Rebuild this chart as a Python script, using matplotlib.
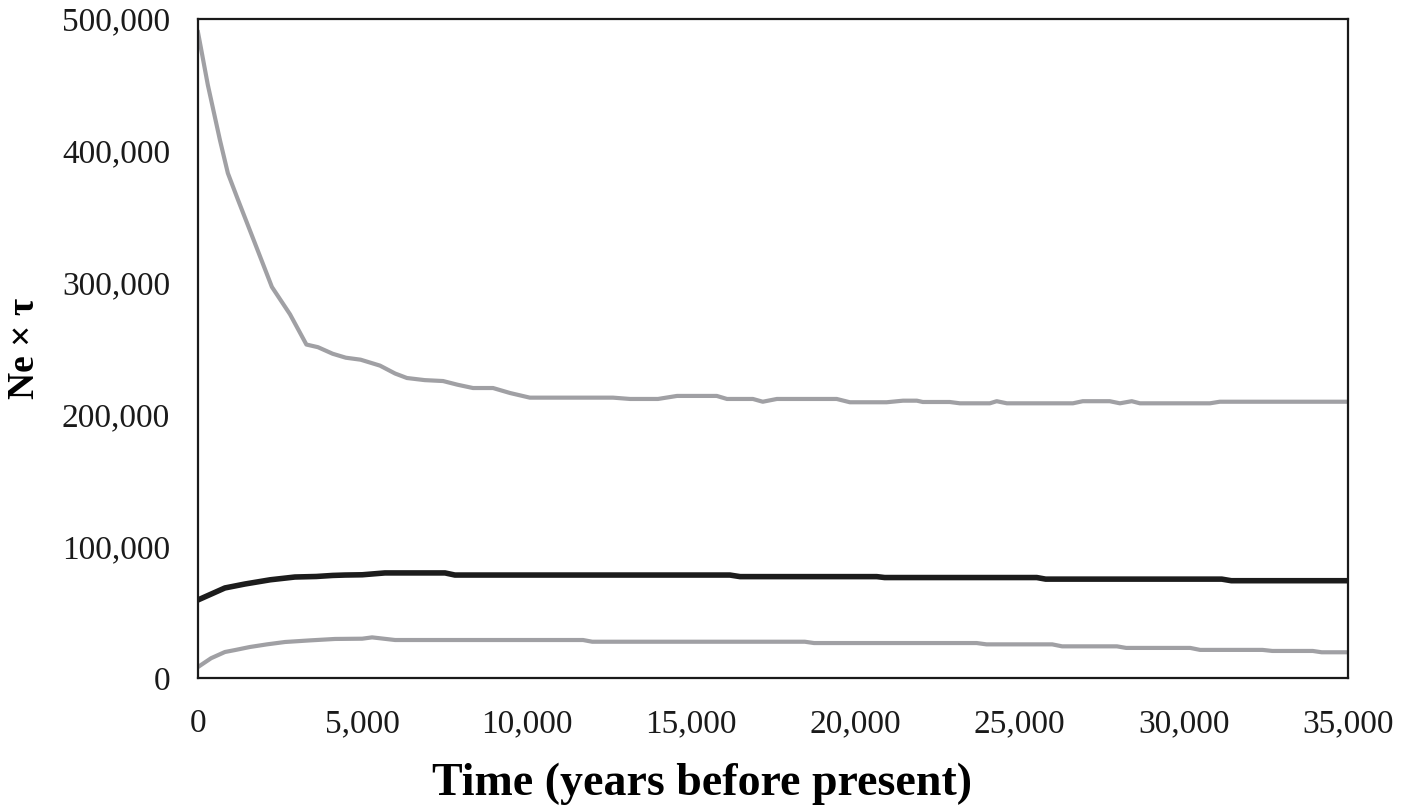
import numpy as np
import matplotlib
matplotlib.use('Agg')
import matplotlib.pyplot as plt
from matplotlib.ticker import FuncFormatter

plt.rcParams['font.family'] = ['Liberation Serif', 'DejaVu Serif']

# upper grey bound
years_upper = [0, 300, 670, 910, 1220, 1700, 2250, 2800, 3300, 3650, 4100, 4500, 4950,
               5540, 6000, 6360, 6900, 7460, 7900, 8370, 8980, 9500, 10100, 12630, 13150,
               14000, 14580, 15790, 16100, 16890, 17190, 17620, 19440, 19840, 20960, 21460,
               21880, 22060, 22880, 23190, 24100, 24310, 24620, 26630, 26930, 27750, 28060,
               28420, 28670, 30800, 31100, 35000]
upper = [490000, 450000, 408000, 383000, 362700, 332000, 296700, 276000, 253000, 251000,
         246000, 243000, 241500, 237000, 231000, 227600, 226000, 225300, 222500, 220000,
         220000, 216200, 212700, 212700, 211700, 211700, 214000, 214000, 211700, 211700,
         209600, 211700, 211700, 209200, 209200, 210400, 210400, 209400, 209400, 208400,
         208400, 210000, 208400, 208400, 210000, 210000, 208400, 210000, 208400, 208400,
         209600, 209600]

# median (black)
years_mid = [0, 820, 1430, 2200, 2950, 3600, 4100, 4470, 5000, 5690, 7520, 7820, 16190,
             16500, 20660, 20900, 25530, 25800, 31160, 31450, 35000]
mid = [59200, 68300, 71300, 74500, 76600, 77000, 77800, 78100, 78300, 79700, 79700, 78100,
       78100, 76900, 76900, 76200, 76200, 75000, 75000, 73800, 73800]

# lower grey bound
years_low = [0, 400, 820, 1130, 1580, 2100, 2650, 3400, 4170, 5000, 5300, 6000, 11720,
             12000, 18470, 18750, 23700, 24000, 26000, 26300, 27970, 28250, 30200, 30500,
             32400, 32700, 33930, 34200, 35000]
low = [8300, 15000, 19700, 21200, 23500, 25500, 27300, 28500, 29600, 29800, 30800, 28800,
       28800, 27500, 27500, 26500, 26500, 25500, 25500, 24000, 24000, 22800, 22800, 21300,
       21300, 20500, 20500, 19500, 19500]

fig = plt.figure(figsize=(14.06, 8.05), dpi=100)
ax = fig.add_axes([0.1408, 0.1578, 0.8179, 0.8186])

grey = '#a0a0a4'
ax.plot(years_upper, upper, color=grey, lw=3.0, solid_joinstyle='round')
ax.plot(years_low, low, color=grey, lw=3.0, solid_joinstyle='round')
ax.plot(years_mid, mid, color='#1c1c1c', lw=4.0, solid_joinstyle='round')

ax.set_xlim(0, 35000)
ax.set_ylim(0, 500000)
ax.set_xticks(np.arange(0, 35001, 5000))
ax.set_yticks(np.arange(0, 500001, 100000))
fmt = FuncFormatter(lambda v, p: f'{int(v):,}')
ax.xaxis.set_major_formatter(fmt)
ax.yaxis.set_major_formatter(fmt)
ax.tick_params(length=0, labelsize=24, colors='#1a1a1a')
ax.tick_params(axis='x', pad=22)
ax.tick_params(axis='y', pad=20)

for s in ax.spines.values():
    s.set_linewidth(1.6)
    s.set_color('#1a1a1a')

ax.set_xlabel('Time (years before present)', fontsize=33, fontweight='bold',
              va='center')
ax.xaxis.set_label_coords(0.438, -0.16)
ax.set_ylabel('Ne × τ', fontsize=27, fontweight='bold', labelpad=14)

fig.savefig('out.png', dpi=100, facecolor='white')
